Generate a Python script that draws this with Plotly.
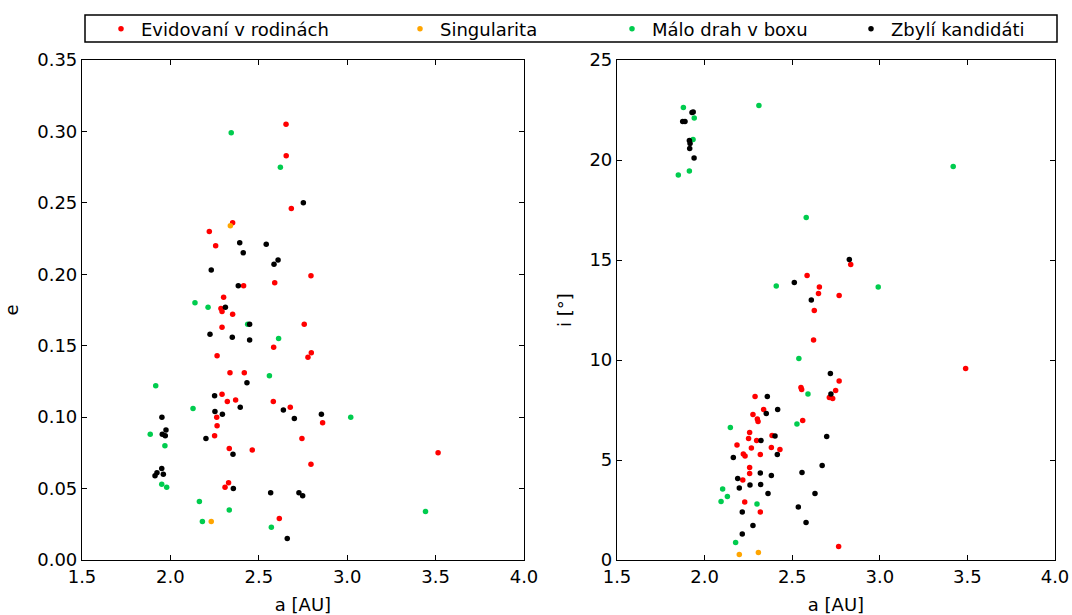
import plotly.graph_objects as go
from plotly.subplots import make_subplots

# ---- semi-major axis a [AU] vs eccentricity e ----
family_a_ecc = [2.654, 2.655, 2.684, 2.352, 2.220, 2.256, 2.795, 2.414, 2.590, 2.301,
                2.286, 2.292, 2.352, 2.292, 2.757, 2.584, 2.797, 2.778, 2.264, 2.337,
                2.418, 2.292, 2.322, 2.369, 2.582, 2.678, 2.262, 2.861, 2.264, 2.250,
                2.744, 2.333, 2.463, 2.795, 2.329, 2.309, 2.616, 3.514]
family_ecc = [0.305, 0.283, 0.246, 0.236, 0.230, 0.220, 0.199, 0.192, 0.194, 0.184,
              0.176, 0.174, 0.172, 0.163, 0.165, 0.149, 0.145, 0.142, 0.143, 0.131,
              0.131, 0.116, 0.111, 0.112, 0.111, 0.107, 0.100, 0.096, 0.094, 0.087,
              0.085, 0.078, 0.077, 0.067, 0.054, 0.051, 0.029, 0.075]

singular_a_ecc = [2.339, 2.231]
singular_ecc = [0.234, 0.027]

sparse_a_ecc = [2.344, 2.622, 2.139, 2.213, 2.437, 2.612, 2.560, 2.128, 3.020, 1.969,
                1.951, 1.979, 2.164, 2.333, 2.181, 2.571, 3.443, 1.917, 1.886]
sparse_ecc = [0.299, 0.275, 0.180, 0.177, 0.165, 0.155, 0.129, 0.106, 0.100, 0.080,
              0.053, 0.051, 0.041, 0.035, 0.027, 0.023, 0.034, 0.122, 0.088]

other_a_ecc = [2.752, 2.392, 2.542, 2.412, 2.609, 2.586, 2.231, 2.384, 2.311, 2.448,
               2.224, 2.350, 2.448, 2.433, 2.250, 2.395, 2.639, 2.252, 2.294, 2.701,
               2.854, 1.952, 1.975, 1.954, 1.971, 2.201, 2.354, 1.951, 1.960, 1.924,
               1.913, 2.356, 2.567, 2.727, 2.748, 2.661]
other_ecc = [0.250, 0.222, 0.221, 0.215, 0.210, 0.207, 0.203, 0.192, 0.177, 0.165,
             0.158, 0.156, 0.154, 0.124, 0.115, 0.107, 0.105, 0.104, 0.102, 0.099,
             0.102, 0.100, 0.091, 0.088, 0.087, 0.085, 0.074, 0.064, 0.060, 0.061,
             0.059, 0.050, 0.047, 0.047, 0.045, 0.015]

# ---- semi-major axis a [AU] vs inclination i [deg] ----
family_a_inc = [2.834, 2.585, 2.655, 2.650, 2.768, 2.626, 2.622, 2.768, 2.550, 2.554,
                2.748, 2.712, 2.731, 2.288, 2.337, 2.276, 2.301, 2.305, 2.560, 2.257,
                2.251, 2.297, 2.385, 2.185, 2.267, 2.381, 2.430, 2.221, 2.231, 2.318,
                2.257, 2.257, 2.218, 2.229, 2.318, 2.765, 3.490]
family_inc = [14.78, 14.22, 13.65, 13.32, 13.22, 12.47, 11.00, 8.95, 8.62, 8.52,
              8.47, 8.13, 8.08, 8.17, 7.52, 7.28, 7.05, 6.93, 6.98, 6.37,
              6.07, 5.98, 6.22, 5.75, 5.60, 5.63, 5.53, 5.30, 5.20, 5.28,
              4.63, 4.32, 4.00, 2.90, 2.40, 0.67, 9.57]

singular_a_inc = [2.198, 2.307]
singular_inc = [0.28, 0.37]

sparse_a_inc = [1.879, 1.941, 2.310, 1.934, 1.913, 1.850, 2.409, 2.538, 2.590, 2.527,
                2.147, 2.103, 2.130, 2.094, 2.299, 2.177, 3.419, 2.580, 2.991]
sparse_inc = [22.63, 22.10, 22.73, 21.02, 19.45, 19.25, 13.70, 10.08, 8.30, 6.80,
              6.62, 3.55, 3.18, 2.93, 2.80, 0.87, 19.67, 17.13, 13.65]

other_a_inc = [1.928, 1.935, 1.875, 1.888, 1.913, 1.917, 1.915, 1.940, 2.826, 2.512,
               2.609, 2.718, 2.721, 2.358, 2.417, 2.352, 2.322, 2.402, 2.697, 2.415,
               2.164, 2.671, 2.318, 2.381, 2.556, 2.189, 2.259, 2.320, 2.198, 2.362,
               2.630, 2.535, 2.215, 2.579, 2.276, 2.215]
other_inc = [22.37, 22.40, 21.92, 21.93, 20.97, 20.83, 20.57, 20.10, 15.03, 13.88,
             13.00, 9.33, 8.30, 8.17, 7.53, 7.33, 5.98, 6.20, 6.18, 5.28,
             5.12, 4.72, 4.35, 4.22, 4.37, 4.08, 3.75, 3.78, 3.60, 3.32,
             3.32, 2.65, 2.40, 1.87, 1.73, 1.30]

groups = [
    ("Evidovaní v rodinách", "#ff0000", family_a_ecc, family_ecc, family_a_inc, family_inc),
    ("Singularita", "#ffa500", singular_a_ecc, singular_ecc, singular_a_inc, singular_inc),
    ("Málo drah v boxu", "#00cc4e", sparse_a_ecc, sparse_ecc, sparse_a_inc, sparse_inc),
    ("Zbylí kandidáti", "#000000", other_a_ecc, other_ecc, other_a_inc, other_inc),
]

W, H = 1072, 615
FONT = "DejaVu Sans"
FS = 18

fig = make_subplots(rows=1, cols=2)

legend_names = ["legend", "legend2", "legend3", "legend4"]
legend_left_px = [101, 400, 612, 851]

for k, (name, color, a1, y1, a2, y2) in enumerate(groups):
    mk = dict(color=color, size=5.5, line=dict(width=0))
    fig.add_trace(go.Scatter(x=a1, y=y1, mode="markers", name=name, marker=mk,
                             legend=legend_names[k], showlegend=True), row=1, col=1)
    fig.add_trace(go.Scatter(x=a2, y=y2, mode="markers", name=name, marker=mk,
                             showlegend=False), row=1, col=2)


def px_x(p):
    return p / W


def px_y(p):
    return 1 - p / H


axis_common = dict(showline=True, linecolor="black", linewidth=1.2, mirror="ticks",
                   ticks="inside", ticklen=5, tickwidth=1, tickcolor="black",
                   showgrid=False, zeroline=False,
                   tickfont=dict(family=FONT, size=FS, color="black"),
                   automargin=False)

fig.update_xaxes(**axis_common, range=[1.5, 4.0], dtick=0.5, tick0=1.5,
                 tickformat=".1f",
                 title=dict(text="a [AU]", font=dict(family=FONT, size=FS, color="black"),
                            standoff=12))
fig.update_layout(
    xaxis=dict(domain=[px_x(82), px_x(524)], anchor="y"),
    xaxis2=dict(domain=[px_x(617), px_x(1055)], anchor="y2"),
    yaxis=dict(domain=[px_y(560), px_y(60)], range=[0, 0.35], dtick=0.05,
               tickformat=".2f", **axis_common,
               title=dict(text="e", font=dict(family=FONT, size=FS, color="black"),
                          standoff=13)),
    yaxis2=dict(domain=[px_y(560), px_y(60)], range=[0, 25], dtick=5,
                tickformat="d", **axis_common,
                title=dict(text="i [°]", font=dict(family=FONT, size=FS, color="black"),
                           standoff=13)),
)

legend_style = dict(orientation="h", yanchor="middle", y=px_y(29), xanchor="left",
                    bgcolor="rgba(0,0,0,0)", borderwidth=0,
                    font=dict(family=FONT, size=FS, color="black"))
for ln, lx in zip(legend_names, legend_left_px):
    fig.update_layout({ln: dict(x=px_x(lx), **legend_style)})

# frame around the legend row
fig.add_shape(type="rect", xref="paper", yref="paper",
              x0=px_x(85), x1=px_x(1057), y0=px_y(42), y1=px_y(15),
              line=dict(color="black", width=1.5), fillcolor="rgba(0,0,0,0)")

fig.update_layout(width=W, height=H, margin=dict(l=0, r=0, t=0, b=0),
                  paper_bgcolor="white", plot_bgcolor="white",
                  font=dict(family=FONT, size=FS, color="black"))

fig.write_html("out.html")
